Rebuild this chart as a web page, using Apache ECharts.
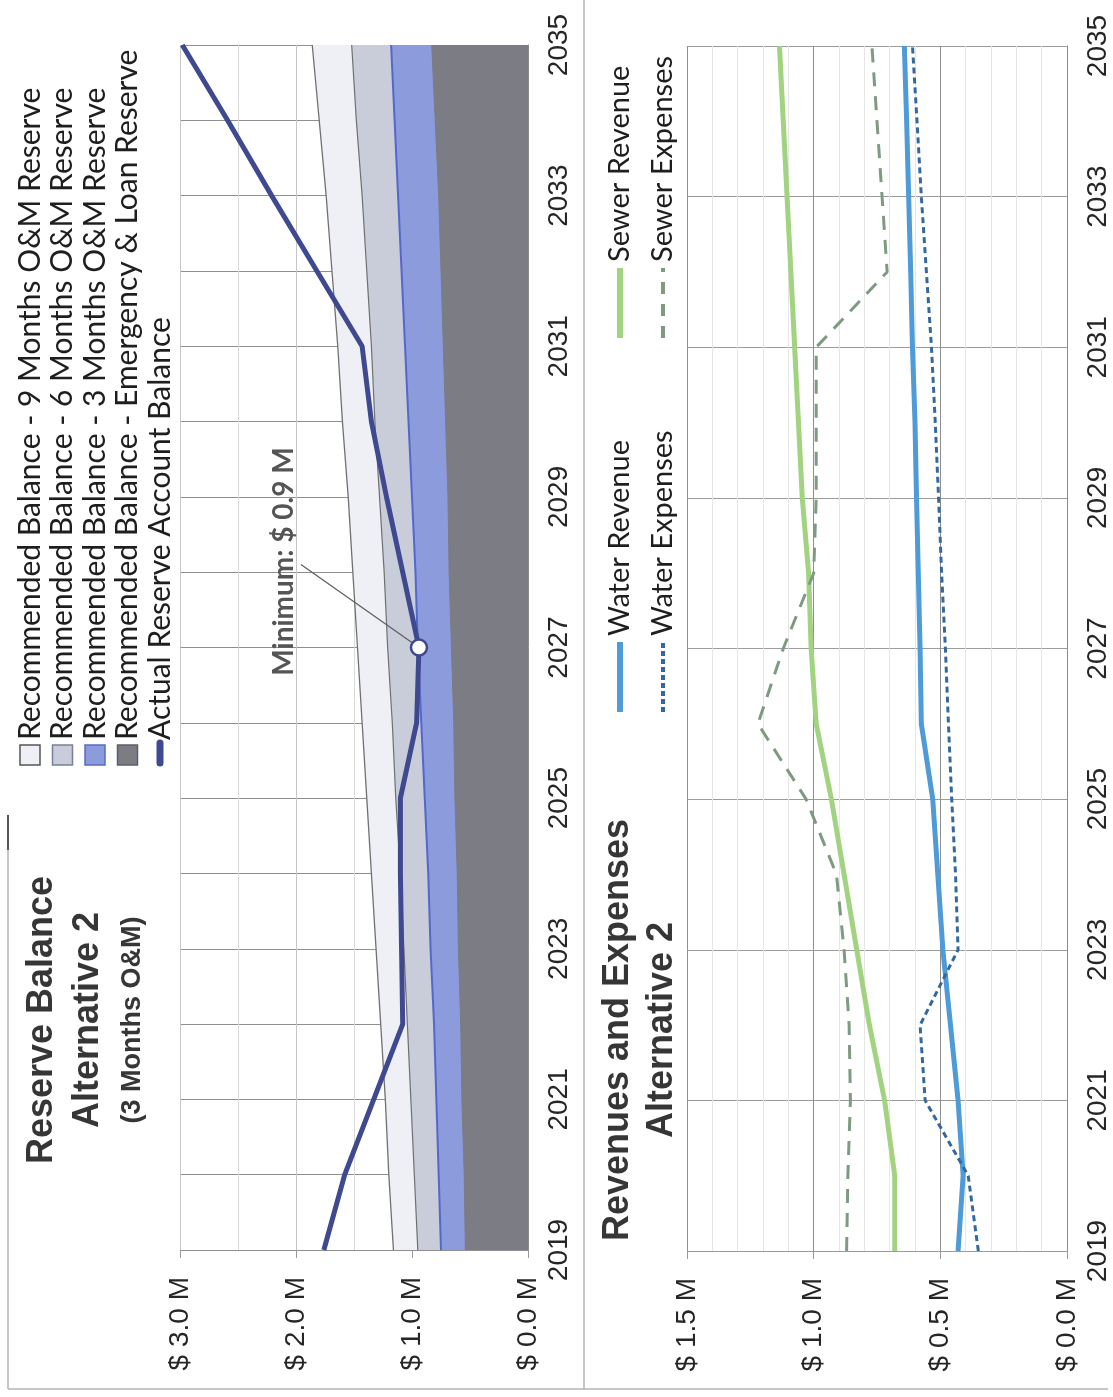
<!DOCTYPE html>
<html>
<head>
<meta charset="utf-8">
<script src="https://cdn.jsdelivr.net/npm/echarts@6/dist/echarts.min.js"></script>
<style>
html,body{margin:0;padding:0;background:#fff;}
#c{width:1113px;height:1397px;}
</style>
</head>
<body>
<div id="c"></div>
<script>
// ---------- data ----------
const years = ['2019','2020','2021','2022','2023','2024','2025','2026','2027','2028','2029','2030','2031','2032','2033','2034','2035'];

// Reserve balance chart ($ M)
const emergencyReserve = [0.54, 0.55, 0.57, 0.58, 0.60, 0.61, 0.63, 0.64, 0.66, 0.68, 0.69, 0.71, 0.73, 0.75, 0.77, 0.80, 0.83];
const reserve3Months   = [0.75, 0.77, 0.79, 0.81, 0.84, 0.86, 0.89, 0.92, 0.95, 0.97, 1.00, 1.03, 1.06, 1.09, 1.12, 1.15, 1.18];
const reserve6Months   = [0.95, 0.98, 1.01, 1.04, 1.07, 1.10, 1.14, 1.17, 1.21, 1.24, 1.28, 1.32, 1.35, 1.39, 1.43, 1.48, 1.52];
const reserve9Months   = [1.16, 1.20, 1.23, 1.27, 1.31, 1.35, 1.39, 1.43, 1.47, 1.51, 1.55, 1.60, 1.64, 1.69, 1.74, 1.80, 1.86];
const actualBalance    = [1.76, 1.58, 1.33, 1.08, 1.09, 1.10, 1.10, 0.96, 0.94, 1.08, 1.22, 1.35, 1.43, 1.82, 2.21, 2.59, 2.98];

// Revenues and expenses chart ($ M)
const waterRevenue  = [0.43, 0.41, 0.43, 0.46, 0.49, 0.51, 0.53, 0.575, 0.58, 0.587, 0.594, 0.60, 0.61, 0.617, 0.625, 0.633, 0.642];
const waterExpenses = [0.35, 0.39, 0.56, 0.58, 0.43, 0.44, 0.455, 0.468, 0.48, 0.495, 0.507, 0.52, 0.535, 0.555, 0.575, 0.592, 0.61];
const sewerRevenue  = [0.68, 0.68, 0.72, 0.78, 0.83, 0.88, 0.93, 0.99, 1.01, 1.02, 1.045, 1.06, 1.075, 1.09, 1.105, 1.12, 1.135];
const sewerExpenses = [0.87, 0.865, 0.855, 0.86, 0.88, 0.91, 1.03, 1.22, 1.12, 1.00, 0.99, 0.99, 0.99, 0.71, 0.73, 0.75, 0.77];

// texts
const reserveNames = [
  'Recommended Balance - 9 Months O&M Reserve',
  'Recommended Balance - 6 Months O&M Reserve',
  'Recommended Balance - 3 Months O&M Reserve',
  'Recommended Balance - Emergency & Loan Reserve',
  'Actual Reserve Account Balance'
];
const revenueNames = ['Water Revenue', 'Water Expenses', 'Sewer Revenue', 'Sewer Expenses'];
const reserveTitle = ['Reserve Balance', 'Alternative 2', '(3 Months O&M)'];
const revenueTitle = ['Revenues and Expenses', 'Alternative 2'];

// ---------- style ----------
const C = {
  r9: '#eef0f6', r9line: '#707070',
  r6: '#c9ccd9', r6line: '#707070',
  r3: '#8c9bdc', r3line: '#5467cc',
  em: '#7b7c84',
  actual: '#3e4990',
  waterRev: '#4f9bd8', waterExp: '#35689f',
  sewerRev: '#a2d381', sewerExp: '#7e9b82',
  text: '#262626'
};
const AX_FONT = 'Liberation Sans';
const LEG_FONT = 'Lato';
const R = Math.PI / 2;
// annotation offset (screen px) of the minimum label from its point
const MIN_LABEL_SHIFT = [-135, -86];

const minIdx = actualBalance.indexOf(Math.min.apply(null, actualBalance));
const actualData = actualBalance.map((v, i) => i !== minIdx ? v : {
  value: v,
  symbol: 'circle',
  symbolSize: 16,
  itemStyle: { color: '#ffffff', borderColor: C.actual, borderWidth: 2.5 },
  label: {
    show: true,
    position: 'inside',
    rotate: 90,
    formatter: 'Minimum: $ ' + v.toFixed(1) + ' M',
    fontSize: 28,
    fontWeight: 'bold',
    fontFamily: LEG_FONT,
    color: '#555'
  }
});

function valueAxis(grid, max, interval, minorSplit, majorColor, minorColor) {
  return {
    type: 'value', gridIndex: grid, inverse: true, min: 0, max: max, interval: interval,
    position: 'bottom',
    axisLine: { show: false },
    axisTick: { show: true, length: 8, lineStyle: { color: '#9a9a9a' } },
    axisLabel: {
      rotate: 90, margin: 27, fontSize: 28, fontFamily: AX_FONT, color: C.text,
      formatter: v => '$ ' + v.toFixed(1) + ' M'
    },
    splitLine: { show: true, lineStyle: { color: majorColor, width: 1 } },
    minorTick: { show: false, splitNumber: minorSplit },
    minorSplitLine: { show: true, lineStyle: { color: minorColor, width: 1 } }
  };
}
function yearAxis(grid, splitInterval, color) {
  return {
    type: 'category', gridIndex: grid, data: years, boundaryGap: false, position: 'right',
    axisLine: { show: true, lineStyle: { color: '#8a8a8a' } },
    axisTick: { show: false },
    axisLabel: { rotate: 90, interval: 1, margin: 17, fontSize: 28, fontFamily: AX_FONT, color: C.text },
    splitLine: { show: true, interval: splitInterval, lineStyle: { color: color, width: 1 } }
  };
}

function areaSeries(name, data, fill, line, lw, z) {
  return {
    name: name, type: 'line', xAxisIndex: 0, yAxisIndex: 0, data: data,
    symbol: 'none', z: z,
    lineStyle: { color: line, width: lw },
    areaStyle: { color: fill, opacity: 1 }
  };
}
function revSeries(name, data, color, width, dash, z) {
  return {
    name: name, type: 'line', xAxisIndex: 1, yAxisIndex: 1, data: data,
    symbol: 'none', z: z,
    lineStyle: { color: color, width: width, type: dash || 'solid', cap: 'butt' }
  };
}

// ---------- legends / titles (rotated graphics) ----------
function legendText(x, y, text, size) {
  return { type: 'text', x: x, y: y, style: { text: text, fontSize: size, fontFamily: LEG_FONT, fill: '#1e1e1e', verticalAlign: 'middle', align: 'left' } };
}
const reserveFills = [[C.r9, '#555'], [C.r6, '#7a7f99'], [C.r3, '#5a6cc0'], [C.em, '#5e5f66']];
const reserveLegendChildren = [];
reserveFills.forEach((f, i) => {
  const cy = i * 32.5 + 14;
  reserveLegendChildren.push({ type: 'rect', shape: { x: 0, y: cy - 10, width: 20, height: 20 }, style: { fill: f[0], stroke: f[1], lineWidth: 1.5 } });
  reserveLegendChildren.push(legendText(25, cy, reserveNames[i], 30));
});
{
  const cy = 4 * 32.5 + 14;
  reserveLegendChildren.push({ type: 'line', shape: { x1: 2, y1: cy, x2: 22, y2: cy }, style: { stroke: C.actual, lineWidth: 7, lineCap: 'round' } });
  reserveLegendChildren.push(legendText(25, cy, reserveNames[4], 30));
}

const revLegendSpec = [
  { name: revenueNames[0], color: C.waterRev, width: 6, dash: null, col: 0, row: 0 },
  { name: revenueNames[1], color: C.waterExp, width: 4, dash: [5, 3], col: 0, row: 1 },
  { name: revenueNames[2], color: C.sewerRev, width: 6, dash: null, col: 1, row: 0 },
  { name: revenueNames[3], color: C.sewerExp, width: 4, dash: [12, 10], col: 1, row: 1 }
];
const revLegendChildren = [];
revLegendSpec.forEach(s => {
  const x0 = s.col * 374;
  const cy = 9 + s.row * 43;
  revLegendChildren.push({ type: 'line', shape: { x1: x0, y1: cy, x2: x0 + 70, y2: cy }, style: { stroke: s.color, lineWidth: s.width, lineDash: s.dash, lineCap: 'butt' } });
  revLegendChildren.push(legendText(x0 + 76, cy, s.name, 29));
});

function titleText(id, x, y, text, size) {
  return { id: id, type: 'text', x: x, y: y, rotation: R, style: { text: text, fontSize: size, fontWeight: 'bold', fontFamily: AX_FONT, fill: '#363636', align: 'center', verticalAlign: 'middle' } };
}

const frameStyle = { stroke: '#b5b5b5', lineWidth: 1.5 };
const leaderStyle = { stroke: '#606060', lineWidth: 1.3 };

const option = {
  animation: false,
  backgroundColor: '#ffffff',
  grid: [
    { left: 180, right: 585, top: 45, bottom: 147, containLabel: false, outerBoundsMode: 'none' },
    { left: 687, right: 46, top: 46, bottom: 146, containLabel: false, outerBoundsMode: 'none' }
  ],
  xAxis: [
    valueAxis(0, 3, 1, 2, '#c6c6c6', '#dadada'),
    valueAxis(1, 1.5, 0.5, 5, '#8e8e8e', '#e6e6e6')
  ],
  yAxis: [
    yearAxis(0, 0, '#8f8f8f'),
    yearAxis(1, 1, '#9c9c9c')
  ],
  series: [
    areaSeries(reserveNames[0], reserve9Months, C.r9, C.r9line, 1.3, 1),
    areaSeries(reserveNames[1], reserve6Months, C.r6, C.r6line, 1.2, 2),
    areaSeries(reserveNames[2], reserve3Months, C.r3, C.r3line, 2, 3),
    areaSeries(reserveNames[3], emergencyReserve, C.em, C.em, 1, 4),
    {
      name: reserveNames[4], type: 'line', xAxisIndex: 0, yAxisIndex: 0, data: actualData,
      symbol: 'none', z: 6,
      lineStyle: { color: C.actual, width: 5 },
      // rotated label: dx/dy act in the label's rotated frame
      labelLayout: { dx: -MIN_LABEL_SHIFT[1], dy: MIN_LABEL_SHIFT[0] }
    },
    revSeries(revenueNames[2], sewerRevenue, C.sewerRev, 5, null, 2),
    revSeries(revenueNames[3], sewerExpenses, C.sewerExp, 3, [14, 10], 3),
    revSeries(revenueNames[0], waterRevenue, C.waterRev, 5, null, 4),
    revSeries(revenueNames[1], waterExpenses, C.waterExp, 3, [6, 4], 5)
  ],
  graphic: [
    { id: 'leg1', type: 'group', x: 16, y: 765, rotation: R, children: reserveLegendChildren },
    { id: 'leg2', type: 'group', x: 611, y: 712, rotation: R, children: revLegendChildren },
    titleText('t1', 42, 1020, reserveTitle[0], 36),
    titleText('t2', 88, 1020, reserveTitle[1], 36),
    titleText('t3', 133, 1020, reserveTitle[2], 27),
    titleText('t4', 618, 1030, revenueTitle[0], 36),
    titleText('t5', 662, 1030, revenueTitle[1], 36),
    { id: 'f1', type: 'line', shape: { x1: 584, y1: 0, x2: 584, y2: 1390 }, style: frameStyle },
    { id: 'f2', type: 'line', shape: { x1: 8, y1: 1389, x2: 1108, y2: 1389 }, style: frameStyle },
    { id: 'f3', type: 'line', shape: { x1: 8, y1: 840, x2: 8, y2: 1389 }, style: frameStyle },
    { id: 'f4', type: 'line', shape: { x1: 8, y1: 815, x2: 8, y2: 850 }, style: { stroke: '#555', lineWidth: 2 } },
    { id: 'minLeader', type: 'line', z: 5, shape: { x1: 0, y1: 0, x2: 0, y2: 0 }, style: leaderStyle }
  ]
};

const chart = echarts.init(document.getElementById('c'), null, { renderer: 'canvas' });
chart.setOption(option);

// leader line from the minimum point (located through the chart's own scales) to its label
const p = chart.convertToPixel({ gridIndex: 0 }, [actualBalance[minIdx], minIdx]);
chart.setOption({
  graphic: [{
    id: 'minLeader', type: 'line', z: 5,
    shape: { x1: p[0], y1: p[1], x2: p[0] + MIN_LABEL_SHIFT[0] + 17, y2: p[1] + MIN_LABEL_SHIFT[1] + 3 },
    style: leaderStyle
  }]
});
</script>
</body>
</html>
